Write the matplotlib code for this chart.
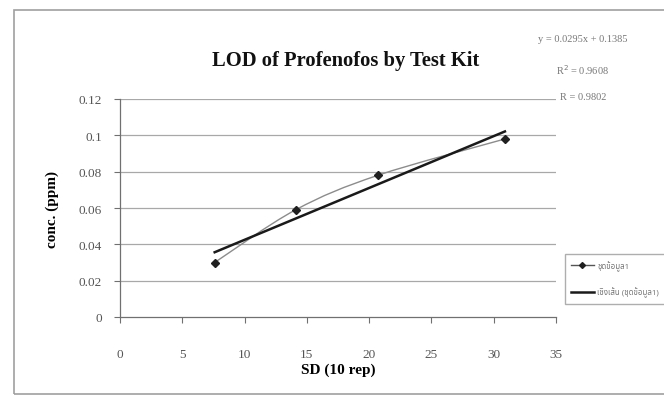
import numpy as np
import matplotlib.pyplot as plt
from matplotlib.path import Path
from matplotlib.patches import PathPatch, Rectangle
from matplotlib.lines import Line2D

# data
sd = [7.6, 14.1, 20.7, 30.9]
conc = [0.030, 0.059, 0.078, 0.098]
x_ticks = [0, 5, 10, 15, 20, 25, 30, 35]
y_ticks = [0, 0.02, 0.04, 0.06, 0.08, 0.1, 0.12]
y_labels = ["0", "0.02", "0.04", "0.06", "0.08", "0.1", "0.12"]
series_name = "ชุดข้อมูล1"
trend_name = "เชิงเส้น (ชุดข้อมูล1)"
eq_text = ["y = 0.0295x + 0.1385", "R$^2$ = 0.9608", "R = 0.9802"]

serif = "Liberation Serif"

fig = plt.figure(figsize=(6.64, 4.06), dpi=100)
fig.patch.set_facecolor("white")

# outer chart frame
fig.patches.append(Rectangle((14 / 664, 1 - 395 / 406), 0.99, 384 / 406,
                             transform=fig.transFigure, fill=False,
                             edgecolor="#a0a0a0", lw=1.2))

ax = fig.add_axes([120 / 664, 1 - 318 / 406, 436 / 664, 218 / 406])
ax.set_xlim(0, 35)
ax.set_ylim(0, 0.12)

for y in y_ticks[1:]:
    ax.axhline(y, color="#a8a8a8", lw=0.9, zorder=0)

# smoothed data line (Excel style), bezier through the points
pts = np.column_stack([sd, conc])
verts = [pts[0]]
codes = [Path.MOVETO]
for i in range(len(pts) - 1):
    p0 = pts[i - 1] if i > 0 else pts[i]
    p1 = pts[i]
    p2 = pts[i + 1]
    p3 = pts[i + 2] if i + 2 < len(pts) else pts[i + 1]
    verts += [p1 + (p2 - p0) / 6, p2 - (p3 - p1) / 6, p2]
    codes += [Path.CURVE4] * 3
ax.add_patch(PathPatch(Path(verts, codes), fill=False, edgecolor="#8c8c8c", lw=1.0))
ax.plot(sd, conc, linestyle="none", marker="D", ms=4, color="#202020")

# linear trendline
k, b = np.polyfit(sd, conc, 1)
xs = np.array([sd[0], sd[-1]])
ax.plot(xs, k * xs + b, color="#1a1a1a", lw=1.8)

for s in ["top", "right"]:
    ax.spines[s].set_visible(False)
for s in ["left", "bottom"]:
    ax.spines[s].set_color("#707070")
    ax.spines[s].set_linewidth(0.9)

ax.set_xticks(x_ticks)
ax.set_yticks(y_ticks)
ax.set_yticklabels(y_labels)
ax.tick_params(colors="#707070", labelcolor="#555555", length=4, labelsize=9.5)
for lab in ax.get_xticklabels() + ax.get_yticklabels():
    lab.set_fontfamily(serif)
ax.tick_params(axis="x", pad=18)
ax.tick_params(axis="y", pad=9)

ax.set_xlabel("SD (10 rep)", fontfamily=serif, fontweight="bold", fontsize=11,
              labelpad=2)
ax.set_ylabel("conc. (ppm)", fontfamily=serif, fontweight="bold", fontsize=11,
              labelpad=14)

fig.text(346 / 664, 1 - 61 / 406, "LOD of Profenofos by Test Kit", fontfamily=serif,
         fontweight="bold", fontsize=14.8, ha="center", va="center", color="#111111")

for t, yy in zip(eq_text, [39, 70, 98]):
    fig.text(583 / 664, 1 - yy / 406, t, fontfamily=serif, fontsize=7.5,
             ha="center", va="center", color="#777777")

handles = [Line2D([], [], color="#555555", lw=1.0, marker="D", ms=3,
                  markerfacecolor="#202020", markeredgecolor="#202020"),
           Line2D([], [], color="#1a1a1a", lw=1.8)]
leg = fig.legend(handles, [series_name, trend_name], loc="upper left",
                 bbox_to_anchor=(565 / 664, 1 - 255 / 406), frameon=True,
                 fancybox=False, edgecolor="#9a9a9a",
                 prop={"family": ["Noto Sans Thai", "Loma", "DejaVu Sans"], "size": 5.7},
                 handlelength=2.8, handletextpad=0.5, labelspacing=2.0,
                 borderpad=0.8, borderaxespad=0)
for txt in leg.get_texts():
    txt.set_color("#777777")

fig.savefig("out.png", dpi=100)
